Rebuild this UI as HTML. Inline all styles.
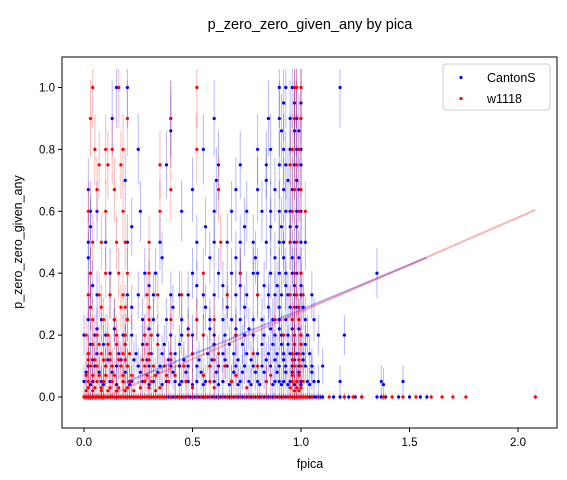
<!DOCTYPE html>
<html><head><meta charset="utf-8">
<style>
body{margin:0;background:#fff;}
svg{display:block;font-family:"Liberation Sans","DejaVu Sans",sans-serif;}
</style></head>
<body>
<svg id="chart" width="567" height="480" viewBox="0 0 567 480">
<rect width="567" height="480" fill="#fff"/>
<text x="310" y="29" text-anchor="middle" font-size="14.5" fill="#000">p_zero_zero_given_any by pica</text>
<g id="plot"></g>
<rect x="62" y="57" width="495" height="371" fill="none" stroke="#000" stroke-width="1"/>
<g id="axes"></g>
<text x="310" y="468" text-anchor="middle" font-size="12.5">fpica</text>
<text transform="translate(22,242) rotate(-90)" text-anchor="middle" font-size="12.5">p_zero_zero_given_any</text>
<g>
<rect x="443" y="64" width="107" height="46" rx="3" fill="#fff" fill-opacity="0.85" stroke="#ccc"/>
<circle cx="461" cy="77.5" r="1.6" fill="#0000ff"/>
<text x="487" y="82" font-size="12.5">CantonS</text>
<circle cx="461" cy="98.5" r="1.6" fill="#ff0000"/>
<text x="487" y="103" font-size="12.5">w1118</text>
</g>
</svg>
<script>
const xTicks=[0,0.5,1.0,1.5,2.0];
const xTickLabels=["0.0","0.5","1.0","1.5","2.0"];
const yTicks=[0,0.2,0.4,0.6,0.8,1.0];
const yTickLabels=["0.0","0.2","0.4","0.6","0.8","1.0"];
const seriesNames=["CantonS","w1118"];
const blueLevels=[0,0.04,0.05,0.08,0.1,0.12,0.14,0.17,0.2,0.22,0.25,0.29,0.33,0.36,0.4,0.45,0.5,0.55,0.6,0.67,0.7,0.75,0.8,0.86,0.9,0.95,1.0];
const blueX=[
[0,0.01,0.02,0.03,0.04,0.05,0.06,0.07,0.08,0.09,0.1,0.11,0.12,0.13,0.14,0.15,0.16,0.17,0.18,0.19,0.2,0.21,0.22,0.23,0.24,0.25,0.26,0.27,0.28,0.29,0.3,0.31,0.32,0.33,0.34,0.35,0.36,0.37,0.38,0.39,0.4,0.41,0.42,0.43,0.44,0.45,0.46,0.47,0.48,0.49,0.5,0.51,0.52,0.53,0.54,0.55,0.56,0.57,0.58,0.59,0.6,0.61,0.62,0.63,0.64,0.65,0.66,0.67,0.68,0.69,0.7,0.71,0.72,0.73,0.74,0.75,0.76,0.77,0.78,0.79,0.8,0.81,0.82,0.83,0.84,0.85,0.86,0.87,0.88,0.89,0.9,0.91,0.92,0.93,0.94,0.95,0.96,0.97,0.98,0.99,1.0,1.01,1.02,1.03,1.04,1.05,1.06,1.07,1.08,1.09,1.1,1.15,1.18,1.2,1.22,1.25,1.28,1.35,1.37,1.39,1.45,1.5,1.55,1.58],
[0.03,0.09,0.15,0.21,0.3,0.36,0.44,0.5,0.55,0.62,0.67,0.71,0.77,0.81,0.87,0.91,0.94,0.97,1.0,1.04,1.38],
[0,0.04,0.08,0.12,0.18,0.22,0.27,0.32,0.38,0.42,0.45,0.48,0.52,0.56,0.6,0.64,0.68,0.72,0.76,0.8,0.84,0.88,0.9,0.92,0.95,0.98,1.0,1.03,1.06,1.08,1.18,1.37,1.47],
[0.01,0.07,0.13,0.19,0.26,0.34,0.41,0.47,0.54,0.61,0.69,0.73,0.79,0.83,0.89,0.93,0.96,0.99,1.05],
[0.02,0.05,0.1,0.15,0.2,0.25,0.3,0.35,0.4,0.44,0.48,0.52,0.58,0.62,0.66,0.7,0.74,0.78,0.82,0.86,0.9,0.93,0.96,0.99,1.02,1.05,1.1],
[0.04,0.11,0.17,0.23,0.29,0.39,0.46,0.53,0.59,0.65,0.71,0.77,0.84,0.88,0.92,0.97,1.01],
[0.02,0.06,0.12,0.16,0.24,0.31,0.36,0.42,0.5,0.57,0.64,0.69,0.75,0.8,0.85,0.89,0.92,0.95,0.98,1.01,1.04],
[0.03,0.09,0.19,0.27,0.37,0.44,0.6,0.67,0.73,0.82,0.87,0.91,0.94,0.97,1.0,1.02],
[0.0,0.05,0.1,0.18,0.22,0.28,0.34,0.4,0.45,0.5,0.55,0.6,0.65,0.7,0.74,0.78,0.83,0.88,0.91,0.94,0.97,1.0,1.03,1.08,1.2],
[0.06,0.14,0.3,0.48,0.58,0.7,0.76,0.86,0.9,0.96,0.99],
[0.02,0.08,0.14,0.2,0.27,0.32,0.38,0.45,0.52,0.58,0.64,0.68,0.72,0.78,0.82,0.87,0.9,0.93,0.96,0.99,1.02,1.06],
[0.03,0.22,0.41,0.56,0.66,0.74,0.85,0.9,0.95,0.98,1.01],
[0.02,0.06,0.12,0.2,0.25,0.32,0.4,0.44,0.48,0.55,0.6,0.66,0.7,0.75,0.8,0.85,0.88,0.91,0.94,0.97,1.0,1.05],
[0.04,0.3,0.52,0.64,0.72,0.83,0.89,0.93,0.97,1.0],
[0.03,0.12,0.28,0.33,0.5,0.62,0.68,0.72,0.78,0.8,0.86,0.9,0.93,0.96,0.98,1.0,1.35],
[0.02,0.36,0.58,0.7,0.79,0.88,0.92,0.96,0.99],
[0.02,0.1,0.2,0.35,0.52,0.6,0.66,0.72,0.78,0.84,0.9,0.92,0.95,0.97,1.0,1.02],
[0.03,0.22,0.56,0.74,0.86,0.91,0.95,0.98],
[0.03,0.06,0.26,0.45,0.6,0.68,0.75,0.82,0.86,0.9,0.93,0.95,0.98,1.0],
[0.02,0.5,0.7,0.8,0.88,0.92,0.96,0.99],
[0.19,0.61,0.84,0.94,0.98],
[0.38,0.62,0.72,0.84,0.9,0.93,0.97,1.0],
[0.25,0.55,0.8,0.86,0.92,0.95,0.98,1.0],
[0.4,0.91,0.97,0.99],
[0.13,0.4,0.6,0.85,0.9,0.95,0.98],
[0.92,0.97,1.0],
[0.15,0.2,0.9,0.93,0.96,0.98,1.0,1.18]
];
const redLevels=[0,0.02,0.03,0.05,0.07,0.1,0.12,0.14,0.17,0.2,0.25,0.29,0.33,0.4,0.5,0.6,0.67,0.75,0.8,0.9,1.0];
const redX=[
[0,0.005,0.01,0.015,0.02,0.025,0.03,0.035,0.04,0.045,0.05,0.055,0.06,0.065,0.07,0.075,0.08,0.085,0.09,0.095,0.1,0.11,0.12,0.13,0.14,0.15,0.16,0.17,0.18,0.19,0.2,0.21,0.22,0.23,0.24,0.25,0.26,0.27,0.28,0.29,0.3,0.31,0.32,0.33,0.34,0.35,0.36,0.37,0.38,0.4,0.42,0.44,0.46,0.48,0.5,0.52,0.54,0.56,0.58,0.6,0.62,0.64,0.66,0.68,0.7,0.72,0.74,0.76,0.78,0.8,0.82,0.84,0.86,0.88,0.9,0.92,0.94,0.95,0.96,0.97,0.98,0.99,1.0,1.01,1.02,1.03,1.05,1.08,1.13,1.2,1.24,1.28,1.38,1.42,1.47,1.53,1.6,1.65,1.7,1.76,2.08],
[0.01,0.04,0.08,0.11,0.15,0.19,0.23,0.33,0.97,0.99],
[0.02,0.05,0.08,0.12,0.16,0.2,0.26,0.3,0.35,0.5,0.6,0.75,0.95,0.98,1.0],
[0.02,0.06,0.09,0.13,0.18,0.21,0.28,0.31,0.39,0.47,0.58,0.68,0.84,0.96,0.98,1.01],
[0.01,0.04,0.07,0.1,0.14,0.18,0.22,0.29,0.33,0.38,0.42,0.55,0.7,0.86,0.96,0.99],
[0.03,0.06,0.1,0.13,0.17,0.2,0.28,0.32,0.37,0.46,0.58,0.65,0.8,0.97,1.0],
[0.02,0.05,0.09,0.12,0.16,0.19,0.27,0.3,0.4,0.6,0.96,0.99],
[0.02,0.08,0.12,0.18,0.21,0.3,0.4,0.5,0.62,0.78,0.96,0.99],
[0.04,0.07,0.11,0.15,0.19,0.29,0.34,0.97,1.0],
[0.01,0.06,0.11,0.15,0.19,0.28,0.31,0.48,0.55,0.7,0.92,0.97,1.0],
[0.04,0.09,0.14,0.2,0.3,0.4,0.52,0.6,0.88,0.96,0.99],
[0.03,0.08,0.17,0.19,0.3,0.97,0.99],
[0.02,0.07,0.12,0.18,0.29,0.34,0.45,0.66,0.8,0.95,0.98,1.01],
[0.03,0.1,0.16,0.2,0.3,0.55,0.72,0.97,1.0],
[0.04,0.08,0.15,0.19,0.3,0.63,0.95,0.98],
[0.02,0.1,0.18,0.35,0.96,0.99,1.02],
[0.06,0.14,0.4,0.62,0.97,1.0],
[0.07,0.11,0.17,0.35,0.95,0.98],
[0.05,0.1,0.13,0.18,0.52,0.96,0.99],
[0.03,0.2,0.4,0.97,1.0],
[0.04,0.16,0.52,0.97,0.98,1.0]
];
const blueFit=[0.29,-0.008,0.18,1.58];
const redFit=[0.305,-0.03,0.12,2.08];

const plot=document.getElementById('plot');
const axes=document.getElementById('axes');
const NS='http://www.w3.org/2000/svg';
const xS=v=>84+v*217;
const yS=v=>397-v*309.5;
function mk(tag,attrs,parent){const e=document.createElementNS(NS,tag);for(const k in attrs)e.setAttribute(k,attrs[k]);parent.appendChild(e);return e;}

function drawSeries(levels,xs,color,name){
  const g=mk('g',{},plot);
  
  
  const eg=mk('g',{},g);
  
  
  const pg=mk('g',{},g);
  
  
  levels.forEach((y,i)=>{
    xs[i].forEach(x=>{
      const err=y>0?Math.min(0.13,0.05+y*0.08):0.012;
      const ln=mk('line',{x1:xS(x),x2:xS(x),y1:yS(Math.min(1.06,y+err)),y2:yS(Math.max(-0.01,y-err)),stroke:color,'stroke-opacity':0.28,'stroke-width':1},eg);
      
      
      const c=mk('circle',{cx:xS(x),cy:yS(y),r:1.6,fill:color},pg);
      
      
    });
  });
}
drawSeries(blueLevels,blueX,'#0000ff','cantons');
drawSeries(redLevels,redX,'#ff0000','w1118');
function drawFit(f,color,name){
  const l=mk('line',{x1:xS(f[2]),y1:yS(f[0]*f[2]+f[1]),x2:xS(f[3]),y2:yS(f[0]*f[3]+f[1]),stroke:color,'stroke-opacity':0.3,'stroke-width':2},plot);
  
  
}
drawFit(blueFit,'#0000ff','cantons-fit-line');
drawFit(redFit,'#ff0000','w1118-fit-line');

xTicks.forEach((v,i)=>{
  mk('line',{x1:xS(v),x2:xS(v),y1:428,y2:432,stroke:'#000'},axes);
  const t=mk('text',{x:xS(v),y:446,'text-anchor':'middle','font-size':11.5},axes);
  t.textContent=xTickLabels[i];
  
  
});
yTicks.forEach((v,i)=>{
  mk('line',{x1:58,x2:62,y1:yS(v),y2:yS(v),stroke:'#000'},axes);
  const t=mk('text',{x:55,y:yS(v)+4,'text-anchor':'end','font-size':11.5},axes);
  t.textContent=yTickLabels[i];
  
  
});
</script>
</body></html>
